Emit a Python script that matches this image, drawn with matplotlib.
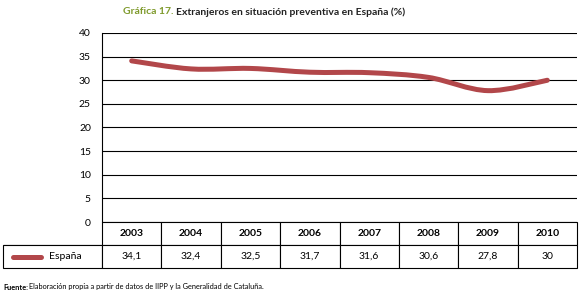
import matplotlib
matplotlib.use("Agg")
import matplotlib.pyplot as plt
from matplotlib.path import Path
from matplotlib.patches import PathPatch
from matplotlib.lines import Line2D

plt.rcParams['font.family'] = ['Lato', 'DejaVu Sans']

years = ['2003', '2004', '2005', '2006', '2007', '2008', '2009', '2010']
espana = [34.1, 32.4, 32.5, 31.7, 31.6, 30.6, 27.8, 30.0]
espana_labels = ['34,1', '32,4', '32,5', '31,7', '31,6', '30,6', '27,8', '30']
yticks = [0, 5, 10, 15, 20, 25, 30, 35, 40]

line_color = '#b2474a'
green = '#7f9a2c'

fig = plt.figure(figsize=(5.8, 2.95), dpi=100)
ax = fig.add_axes([102 / 580, 1 - 222 / 295, 475 / 580, 189 / 295])

# smooth curve through the points (Catmull-Rom -> cubic bezier)
xs = list(range(len(espana)))
verts = [(xs[0], espana[0])]
codes = [Path.MOVETO]
for i in range(len(xs) - 1):
    p0 = (xs[max(i - 1, 0)], espana[max(i - 1, 0)])
    p1 = (xs[i], espana[i])
    p2 = (xs[i + 1], espana[i + 1])
    p3 = (xs[min(i + 2, len(xs) - 1)], espana[min(i + 2, len(xs) - 1)])
    c1 = (p1[0] + (p2[0] - p0[0]) / 6, p1[1] + (p2[1] - p0[1]) / 6)
    c2 = (p2[0] - (p3[0] - p1[0]) / 6, p2[1] - (p3[1] - p1[1]) / 6)
    verts += [c1, c2, p2]
    codes += [Path.CURVE4] * 3
ax.add_patch(PathPatch(Path(verts, codes), fill=False, edgecolor=line_color,
                       lw=3.6, capstyle='round', joinstyle='round', zorder=3))

ax.set_xlim(-0.5, len(years) - 0.5)
ax.set_ylim(0, 40)
ax.set_yticks(yticks)
ax.set_xticks([])
ax.yaxis.grid(True, color='black', lw=0.8)
ax.set_axisbelow(True)
for s in ['top', 'right', 'bottom']:
    ax.spines[s].set_visible(False)
ax.spines['left'].set_linewidth(0.8)
ax.tick_params(axis='y', length=0, pad=8, labelsize=7.5)

# data table under the chart
first_w = 99 / 475
col_w = (1 - 0) / len(years)
tbl = ax.table(cellText=[['España'] + espana_labels],
               colLabels=[''] + years,
               colWidths=[first_w] + [col_w] * len(years),
               cellLoc='center',
               bbox=[-first_w, -46 / 189, 1 + first_w, 46 / 189])
tbl.auto_set_font_size(False)
for (r, c), cell in tbl.get_celld().items():
    cell.set_linewidth(0.8)
    cell.set_edgecolor('black')
    cell.get_text().set_fontsize(7.5)
    if r == 0:
        cell.get_text().set_fontweight('bold')
        if c == 0:
            cell.visible_edges = 'B'
    if r == 1 and c == 0:
        cell.get_text().set_text('España')
        cell.get_text().set_ha('left')
        cell._loc = 'left'
        cell.PAD = 0.46

ax.add_line(Line2D([-first_w + 0.02, -first_w + 0.08], [-35 / 189, -35 / 189],
                   transform=ax.transAxes, color=line_color, lw=3.6,
                   solid_capstyle='round', clip_on=False))

# title
t1 = fig.text(123 / 580, 1 - 12 / 295, 'Gráfica 17.', color=green,
              fontsize=7.5, fontweight='bold', va='center', ha='left')
fig.canvas.draw()
bb = t1.get_window_extent()
fig.text(bb.x1 / 580 + 0.005, 1 - 12 / 295,
         'Extranjeros en situación preventiva en España (%)',
         color='#222222', fontsize=7.5, fontweight='bold', va='center', ha='left')

# source
f1 = fig.text(3 / 580, 1 - 287 / 295, 'Fuente:', fontsize=5.3,
              fontweight='bold', va='center', ha='left')
fig.canvas.draw()
bb = f1.get_window_extent()
fig.text(bb.x1 / 580 + 0.002, 1 - 287 / 295,
         'Elaboración propia a partir de datos de IIPP y la Generalidad de Cataluña.',
         fontsize=5.3, va='center', ha='left')

fig.savefig('out.png', dpi=100)
